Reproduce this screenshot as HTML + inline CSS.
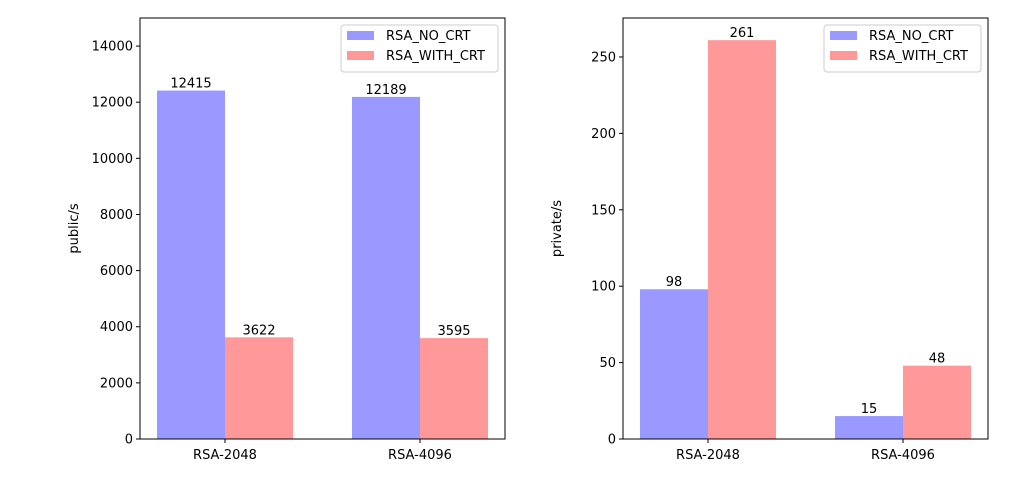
<!DOCTYPE html>
<html><head><meta charset="utf-8"><style>
body{margin:0;background:#fff;}
svg{display:block;font-family:"DejaVu Sans","Liberation Sans",sans-serif;}
</style></head><body>
<svg id="svg" width="1017" height="478"></svg>
<script>
const categories=["RSA-2048","RSA-4096"];
const seriesNames=["RSA_NO_CRT","RSA_WITH_CRT"];
const publicNoCrt=[12415,12189];
const publicWithCrt=[3622,3595];
const privateNoCrt=[98,15];
const privateWithCrt=[261,48];
const publicTicks=[0,2000,4000,6000,8000,10000,12000,14000];
const privateTicks=[0,50,100,150,200,250];
const colors=["#9999ff","#ff9999"];
const NS="http://www.w3.org/2000/svg";
const svg=document.getElementById('svg');
function mk(tag,attrs,parent,text){const e=document.createElementNS(NS,tag);for(const k in attrs)e.setAttribute(k,attrs[k]);if(text!==undefined)e.textContent=text;(parent||svg).appendChild(e);return e;}
function panel(px,ymax,ticks,s1,s2,ylabel,name){
  const L=px,R=px+365,T=18,B=439;
  const g=mk('g',{});
  
  
  const y=v=>B-(v/ymax)*(B-T);
  const x=i=>L+85+i*195;
  const w=68;
  [s1,s2].forEach((s,si)=>{
    s.forEach((v,i)=>{
      const bx=x(i)+(si===0?-w:0);
      const r=mk('rect',{x:bx,y:y(v),width:w,height:B-y(v),fill:colors[si]},g);
      
      
      const t=mk('text',{x:bx+w/2,y:y(v)-3,'text-anchor':'middle','font-size':13},g,String(v));
      
      
    });
  });
  mk('rect',{x:L,y:T,width:R-L,height:B-T,fill:'none',stroke:'#000','stroke-width':1},g);
  ticks.forEach(v=>{
    mk('line',{x1:L-4,x2:L,y1:y(v),y2:y(v),stroke:'#000'},g);
    const t=mk('text',{x:L-7,y:y(v)+4.5,'text-anchor':'end','font-size':13},g,String(v));
    
    
  });
  categories.forEach((c,i)=>{
    mk('line',{x1:x(i),x2:x(i),y1:B,y2:B+4,stroke:'#000'},g);
    const t=mk('text',{x:x(i),y:B+20,'text-anchor':'middle','font-size':13},g,c);
    
    
  });
  const yl=mk('text',{x:0,y:0,transform:`translate(${L-62},${(T+B)/2}) rotate(-90)`,'text-anchor':'middle','font-size':13},g,ylabel);
  
  
  const lg=mk('g',{},g);
  
  
  mk('rect',{x:R-164,y:25,width:157,height:47,rx:3,fill:'#fff',stroke:'#ccc'},lg);
  seriesNames.forEach((n,i)=>{
    mk('rect',{x:R-158,y:31+i*20,width:27,height:9,fill:colors[i]},lg);
    const t=mk('text',{x:R-119,y:40+i*20,'font-size':13},lg,n);
    
    
  });
}
panel(140,15000,publicTicks,publicNoCrt,publicWithCrt,'public/s','public-panel');
panel(623,275.5,privateTicks,privateNoCrt,privateWithCrt,'private/s','private-panel');
</script>
</body></html>
